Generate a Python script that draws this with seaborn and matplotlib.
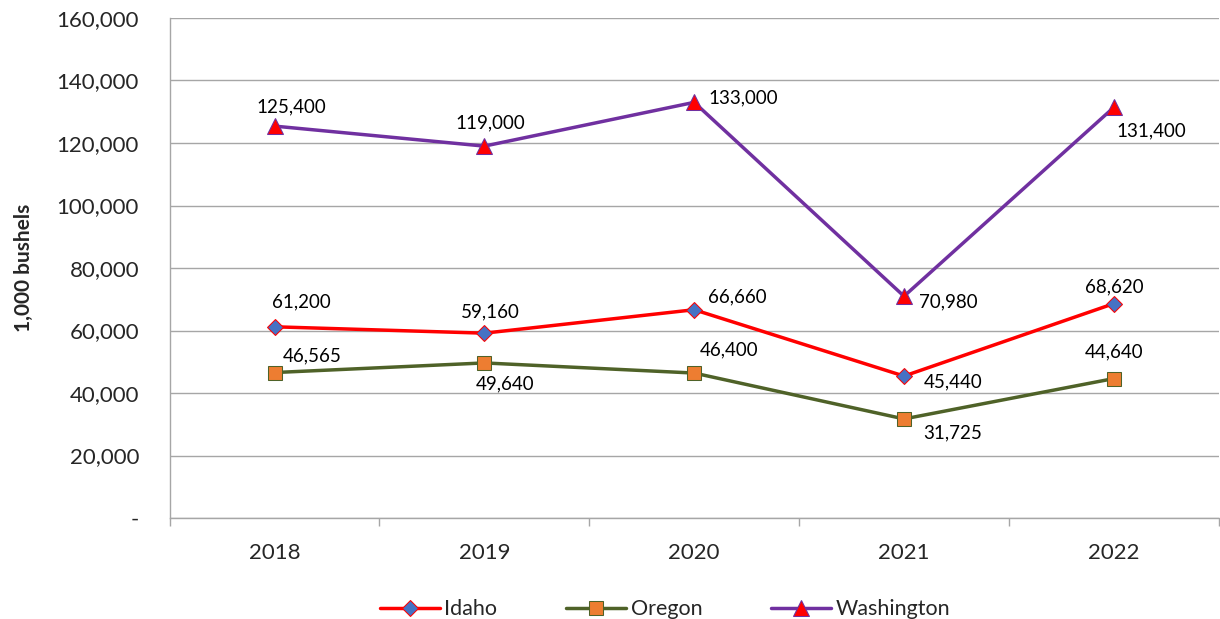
import pandas as pd
import matplotlib
matplotlib.use("Agg")
import matplotlib.pyplot as plt
import seaborn as sns
from matplotlib.ticker import FuncFormatter, FixedLocator

years = ["2018", "2019", "2020", "2021", "2022"]
idaho = [61200, 59160, 66660, 45440, 68620]
oregon = [46565, 49640, 46400, 31725, 44640]
washington = [125400, 119000, 133000, 70980, 131400]

# label offsets (points) and alignment per point
label_pos = {
    "Idaho": [(19, 18, "center"), (4, 15, "center"), (10, 9, "left"), (14, -4, "left"), (0, 12, "center")],
    "Oregon": [(6, 12, "left"), (15, -15, "center"), (25, 17, "center"), (14, -10, "left"), (0, 19, "center")],
    "Washington": [(12, 14, "center"), (4, 17, "center"), (10, 3, "left"), (11, -4, "left"), (27, -17, "center")],
}

styles = {
    "Idaho": dict(color="#FF0000", marker="D", markerfacecolor="#4472C4", markeredgecolor="#FF0000", markersize=8),
    "Oregon": dict(color="#4F6228", marker="s", markerfacecolor="#ED7D31", markeredgecolor="#4F6228", markersize=10),
    "Washington": dict(color="#7030A0", marker="^", markerfacecolor="#FF0000", markeredgecolor="#7030A0", markersize=11),
}

df = pd.DataFrame({"Year": years * 3,
                   "Value": idaho + oregon + washington,
                   "State": ["Idaho"] * 5 + ["Oregon"] * 5 + ["Washington"] * 5})

sns.set_theme(style="white")
plt.rcParams["font.family"] = ["Lato", "DejaVu Sans"]

fig, ax = plt.subplots(figsize=(12.2, 6.19), dpi=100)
fig.subplots_adjust(left=0.139, right=0.999, top=0.971, bottom=0.163)

for state in ["Idaho", "Oregon", "Washington"]:
    sub = df[df["State"] == state]
    sns.lineplot(data=sub, x="Year", y="Value", ax=ax, linewidth=2.5,
                 label=state, legend=False, **styles[state])
    for i, (yr, v) in enumerate(zip(sub["Year"], sub["Value"])):
        dx, dy, ha = label_pos[state][i]
        ax.annotate(f"{v:,}", (i, v), xytext=(dx, dy), textcoords="offset points",
                    ha=ha, va="center", fontsize=13.5, color="black")

ax.set_ylim(0, 160000)
ax.set_xlim(-0.5, 4.5)
ax.set_yticks(range(0, 160001, 20000))
ax.yaxis.set_major_formatter(FuncFormatter(lambda v, p: "-" if v == 0 else f"{int(v):,}"))
ax.grid(axis="y", color="#A6A6A6", linewidth=1)
ax.set_axisbelow(True)

ax.xaxis.set_minor_locator(FixedLocator([-0.5, 0.5, 1.5, 2.5, 3.5, 4.5]))
ax.tick_params(axis="x", which="major", length=0, pad=18, labelsize=16)
ax.tick_params(axis="x", which="minor", length=6, color="#A6A6A6", width=1, direction="out", bottom=True)
ax.tick_params(axis="y", length=0, pad=22, labelsize=16)

for s in ["top", "right"]:
    ax.spines[s].set_visible(False)
for s in ["left", "bottom"]:
    ax.spines[s].set_color("#A6A6A6")
    ax.spines[s].set_linewidth(1)

ax.set_xlabel("")
ax.set_ylabel("1,000 bushels", fontsize=15, fontweight="bold", labelpad=16)

handles, labels = ax.get_legend_handles_labels()
fig.legend(handles, labels, loc="lower center", bbox_to_anchor=(0.545, -0.032), ncol=3,
           frameon=False, fontsize=15.5, handlelength=2.8, columnspacing=3.2, handletextpad=0.2)

plt.savefig("out.png", dpi=100)
